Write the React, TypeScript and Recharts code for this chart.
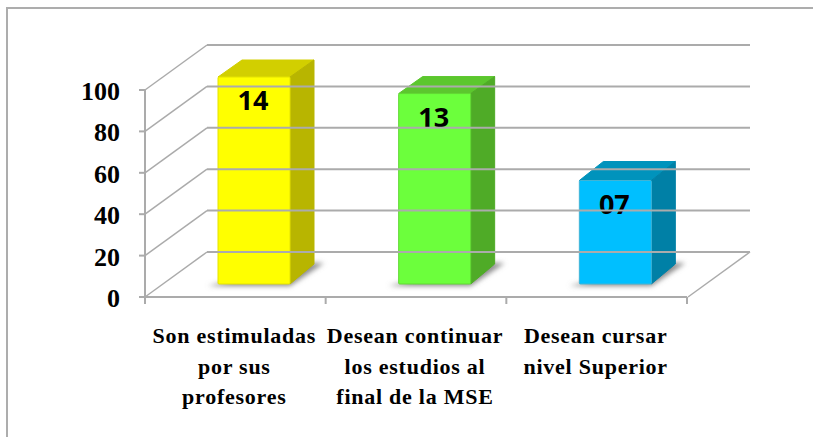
import { BarChart, Bar, XAxis, YAxis } from 'recharts';

const categories = [
  ['Son estimuladas', 'por sus', 'profesores'],
  ['Desean continuar', 'los estudios al', 'final de la MSE'],
  ['Desean cursar', 'nivel Superior'],
];
const percents = [100, 92, 50];
const counts = ['14', '13', '07'];
const yTicks = [0, 20, 40, 60, 80, 100];

const FRONT = ['#FFFF00', '#6CFF3C', '#00BFFF'];
const TOP = ['#D2CF00', '#5CC72E', '#0093BC'];
const SIDE = ['#B8B500', '#4FAB27', '#0080A6'];
const EDGE = ['#E4E200', '#62D834', '#40B4D6'];

const data = categories.map((lines, i) => ({
  name: lines.join(' '),
  lines,
  value: percents[i],
  count: counts[i],
  index: i,
}));

const GRID = '#ABABAB';
const LEFT = 145;
const PLOT_W = 542;
const WALL_X = 62;
const WALL_Y = 45;
const BAR_DX = 19;
const BAR_DY = 13;
const DEPTH_X = 24;
const DEPTH_BASE = 20;
const SERIF = "'Liberation Serif'";

const YTick = ({ y, payload }: any) => (
  <g>
    <line x1={LEFT} y1={y} x2={LEFT + WALL_X} y2={y - WALL_Y} stroke={GRID} strokeWidth={1.5} />
    <line x1={LEFT + WALL_X} y1={y - WALL_Y} x2={LEFT + WALL_X + PLOT_W + 1} y2={y - WALL_Y} stroke={GRID} strokeWidth={2} />
    {payload.value === 0 && (
      <line x1={LEFT + PLOT_W + 1} y1={y} x2={LEFT + PLOT_W + WALL_X + 1} y2={y - WALL_Y} stroke={GRID} strokeWidth={1.5} />
    )}
    <text x={LEFT - 25} y={y + 10} textAnchor="end" fontFamily={SERIF} fontWeight="bold" fontSize={26} fill="#000">
      {payload.value}
    </text>
  </g>
);

const XTick = ({ x, y, index }: any) => {
  const band = PLOT_W / categories.length;
  return (
    <g>
      <line x1={x - band / 2} y1={y - 8} x2={x - band / 2} y2={y - 1} stroke={GRID} strokeWidth={2} />
      {index === categories.length - 1 && (
        <line x1={x + band / 2} y1={y - 8} x2={x + band / 2} y2={y - 1} stroke={GRID} strokeWidth={2} />
      )}
      {categories[index].map((line, i) => (
        <text
          key={i}
          x={x - 1}
          y={y + 38 + i * 30.5}
          textAnchor="middle"
          fontFamily={SERIF}
          fontWeight="bold"
          fontSize={22}
          letterSpacing={0.75}
          fill="#000"
        >
          {line}
        </text>
      ))}
    </g>
  );
};

const Bar3D = ({ x, y, width, height, payload }: any) => {
  const i = payload.index;
  const l = x + BAR_DX;
  const r = l + width;
  const t = y - BAR_DY;
  const b = y + height - BAR_DY;
  // the top of the box recedes a little less than its base
  const topDepth = height > 150 ? 17 : 19;
  return (
    <g>
      <polygon
        points={`${l - 10},${b + 2} ${r},${b + 2} ${r + 34},${b - 21} ${r + 10},${b - 21}`}
        fill="#8C8C8C"
        filter="url(#floorShadow)"
      />
      <polygon
        points={`${l},${t} ${l + DEPTH_X},${t - topDepth} ${r + DEPTH_X},${t - topDepth} ${r},${t}`}
        fill={TOP[i]}
        stroke={TOP[i]}
        strokeLinejoin="round"
      />
      <polygon
        points={`${r},${t} ${r + DEPTH_X},${t - topDepth} ${r + DEPTH_X},${b - DEPTH_BASE} ${r},${b}`}
        fill={SIDE[i]}
        stroke={SIDE[i]}
        strokeLinejoin="round"
      />
      <rect x={l} y={t} width={width} height={height} rx={1} fill={FRONT[i]} stroke={EDGE[i]} />
      <text
        x={l + width / 2 - 1}
        y={t + 33}
        textAnchor="middle"
        fontFamily="'Open Sans'"
        fontWeight="bold"
        fontSize={27}
        fill="#000"
      >
        {payload.count}
      </text>
    </g>
  );
};

export default function App() {
  return (
    <div style={{ position: 'absolute', left: 0, top: 0, width: 813, height: 437, background: '#fff' }}>
      <div style={{ position: 'absolute', left: 6, top: 7, width: 807, height: 2, background: '#ADADAD' }} />
      <div style={{ position: 'absolute', left: 6, top: 7, width: 2, height: 430, background: '#ADADAD' }} />
      <BarChart
        width={813}
        height={437}
        data={data}
        margin={{ top: 90, right: 126, bottom: 80, left: 85 }}
        barSize={72}
        style={{ position: 'absolute', left: 0, top: 0 }}
      >
        <defs>
          <filter id="floorShadow" x="-20%" y="-40%" width="140%" height="180%">
            <feGaussianBlur stdDeviation="2.5" />
          </filter>
        </defs>
        <XAxis
          dataKey="name"
          height={60}
          interval={0}
          axisLine={{ stroke: GRID, strokeWidth: 2 }}
          tickLine={false}
          tick={<XTick />}
        />
        <YAxis
          width={60}
          domain={[0, 100]}
          ticks={yTicks}
          interval={0}
          axisLine={{ stroke: GRID, strokeWidth: 2 }}
          tickLine={{ stroke: GRID, strokeWidth: 2 }}
          tick={<YTick />}
        />
        <Bar dataKey="value" isAnimationActive={false} shape={<Bar3D />} />
      </BarChart>
    </div>
  );
}
